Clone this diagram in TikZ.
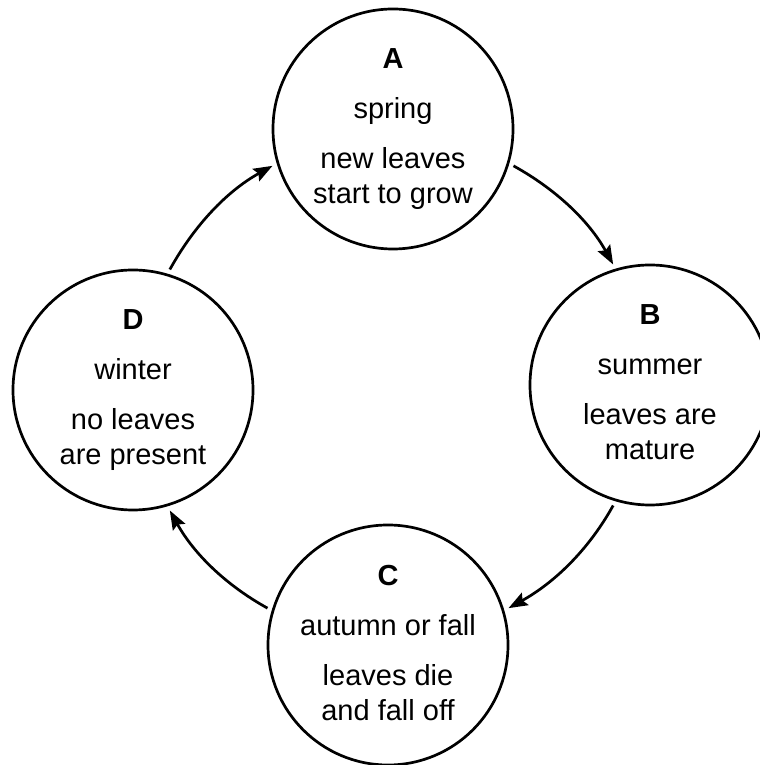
\documentclass[tikz,border=0pt]{standalone}
\usepackage{fontspec}
\setmainfont{Liberation Sans}
\usetikzlibrary{arrows.meta}

\tikzset{
    season/.style={draw, circle, line width=2.7bp, minimum size=240bp, inner sep=0pt,
        outer sep=6bp, align=center, font=\fontsize{29bp}{35bp}\selectfont},
    cycle/.style={line width=2.7bp, -{Stealth[length=19bp,width=14bp,inset=3bp]}, looseness=0.9}
}

\begin{document}
\begin{tikzpicture}[x=1bp,y=1bp]
    \useasboundingbox (0,0) rectangle (760,765);

    % the four seasons
    \node[season] (A) at (393,636) {\textbf{A}\\[15bp] spring\\[15bp] new leaves\\ start to grow\\[-30bp]};
    \node[season] (B) at (650,380) {\textbf{B}\\[15bp] summer\\[15bp] leaves are\\ mature\\[-30bp]};
    \node[season] (C) at (388,120) {\textbf{C}\\[15bp] autumn or fall\\[15bp] leaves die\\ and fall off\\[-30bp]};
    \node[season] (D) at (133,375) {\textbf{D}\\[15bp] winter\\[15bp] no leaves\\ are present\\[-30bp]};

    % arrows round the cycle
    \draw[cycle] (A.-17) to[out=-29,in=119] (B.107);
    \draw[cycle] (B.-107) to[out=-119,in=29] (C.17);
    \draw[cycle] (C.163) to[out=151,in=-61] (D.-73);
    \draw[cycle] (D.73) to[out=61,in=-151] (A.197);
\end{tikzpicture}
\end{document}
